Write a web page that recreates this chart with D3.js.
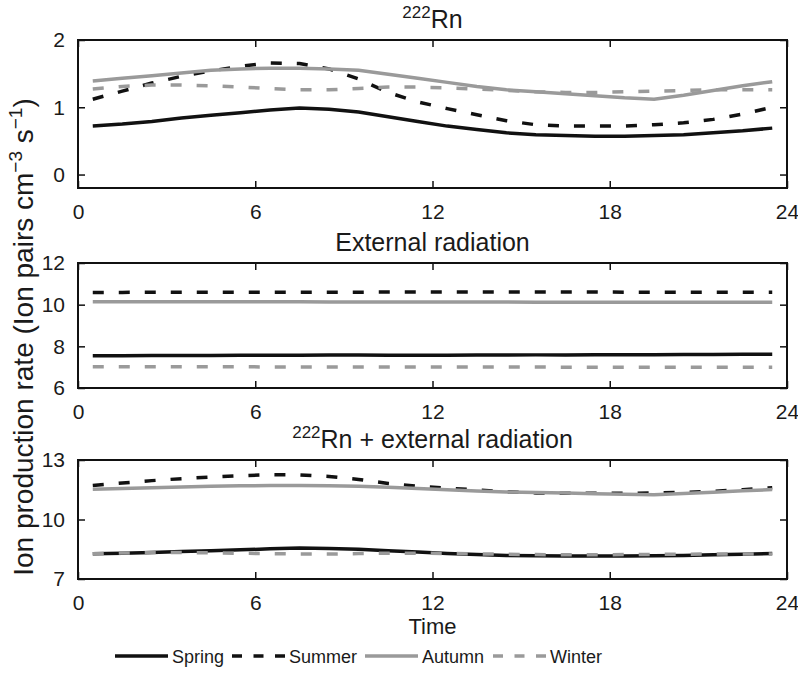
<!DOCTYPE html>
<html>
<head>
<meta charset="utf-8">
<script src="https://cdn.jsdelivr.net/npm/d3@7"></script>
<style>
  body { margin: 0; background: #fff; }
  svg text { font-family: "Liberation Sans", Arial, Helvetica, sans-serif; fill: #1a1a1a; }
</style>
</head>
<body>
<svg id="chart" width="798" height="675"></svg>
<script>
'use strict';

var hours = [0.5, 1.5, 2.5, 3.5, 4.5, 5.5, 6.5, 7.5, 8.5, 9.5, 10.5, 11.5,
	12.5, 13.5, 14.5, 15.5, 16.5, 17.5, 18.5, 19.5, 20.5, 21.5, 22.5, 23.5];
var xTicks = [0, 6, 12, 18, 24];
var seasons = ['Spring', 'Summer', 'Autumn', 'Winter'];

// 222Rn
var rnSpring = [0.72, 0.75, 0.79, 0.84, 0.88, 0.92, 0.96, 0.99, 0.97, 0.93, 0.86, 0.79,
	0.72, 0.67, 0.62, 0.59, 0.58, 0.57, 0.57, 0.58, 0.59, 0.62, 0.65, 0.69];
var rnSummer = [1.12, 1.24, 1.36, 1.46, 1.54, 1.61, 1.66, 1.65, 1.57, 1.42, 1.22, 1.08,
	0.98, 0.89, 0.80, 0.74, 0.72, 0.72, 0.72, 0.74, 0.77, 0.82, 0.90, 1.00];
var rnAutumn = [1.39, 1.43, 1.47, 1.51, 1.55, 1.57, 1.58, 1.58, 1.57, 1.55, 1.49, 1.43,
	1.37, 1.31, 1.26, 1.23, 1.20, 1.17, 1.14, 1.12, 1.18, 1.25, 1.32, 1.38];
var rnWinter = [1.27, 1.31, 1.33, 1.33, 1.32, 1.30, 1.28, 1.26, 1.26, 1.28, 1.30, 1.30,
	1.29, 1.27, 1.25, 1.23, 1.22, 1.22, 1.23, 1.24, 1.25, 1.26, 1.26, 1.26];
var rnTicks = [0, 1, 2];

// external radiation
var extSpring = [7.55, 7.55, 7.56, 7.56, 7.56, 7.57, 7.57, 7.57, 7.58, 7.58, 7.57, 7.57,
	7.57, 7.58, 7.58, 7.59, 7.59, 7.60, 7.60, 7.60, 7.61, 7.61, 7.62, 7.62];
var extSummer = [10.59, 10.59, 10.60, 10.60, 10.60, 10.60, 10.60, 10.60, 10.60, 10.60, 10.61, 10.61,
	10.61, 10.61, 10.61, 10.61, 10.61, 10.61, 10.60, 10.60, 10.60, 10.60, 10.60, 10.60];
var extAutumn = [10.14, 10.14, 10.14, 10.14, 10.14, 10.14, 10.14, 10.14, 10.13, 10.13, 10.13, 10.13,
	10.13, 10.13, 10.13, 10.12, 10.12, 10.12, 10.12, 10.12, 10.12, 10.12, 10.12, 10.12];
var extWinter = [7.02, 7.02, 7.02, 7.02, 7.02, 7.02, 7.01, 7.01, 7.01, 7.01, 7.01, 7.01,
	7.01, 7.01, 7.01, 7.01, 7.00, 7.00, 7.00, 7.00, 7.00, 7.00, 7.00, 7.00];
var extTicks = [6, 8, 10, 12];

// 222Rn + external radiation
var totSpring = [8.27, 8.30, 8.34, 8.39, 8.43, 8.47, 8.52, 8.56, 8.54, 8.50, 8.43, 8.36,
	8.29, 8.24, 8.19, 8.17, 8.16, 8.16, 8.16, 8.17, 8.19, 8.22, 8.25, 8.29];
var totSummer = [11.72, 11.84, 11.96, 12.06, 12.14, 12.21, 12.26, 12.25, 12.17, 12.02, 11.82, 11.68,
	11.58, 11.49, 11.40, 11.34, 11.32, 11.32, 11.32, 11.34, 11.37, 11.42, 11.50, 11.60];
var totAutumn = [11.52, 11.56, 11.60, 11.64, 11.68, 11.70, 11.71, 11.71, 11.70, 11.68, 11.62, 11.56,
	11.50, 11.44, 11.39, 11.36, 11.33, 11.30, 11.27, 11.25, 11.31, 11.38, 11.45, 11.51];
var totWinter = [8.27, 8.31, 8.33, 8.33, 8.32, 8.30, 8.28, 8.26, 8.26, 8.28, 8.30, 8.30,
	8.29, 8.27, 8.25, 8.23, 8.22, 8.22, 8.23, 8.24, 8.25, 8.26, 8.26, 8.26];
var totTicks = [7, 10, 13];

var BLACK = '#111111';
var GREY = '#9a9a9a';
var styles = {
	Spring: { color: BLACK, dash: null },
	Summer: { color: BLACK, dash: '11,15' },
	Autumn: { color: GREY, dash: null },
	Winter: { color: GREY, dash: '11,15' }
};

var svg = d3.select('#chart');
var left = 78, right = 787;

var x = d3.scaleLinear().domain([0, 24]).range([left, right]);

function drawPanel(p) {
	var y = d3.scaleLinear().domain(p.domain).range([p.bottom, p.top]);
	var g = svg.append('g');

	var line = d3.line()
		.x(function(d, i) { return x(hours[i]); })
		.y(function(d) { return y(d); });

	seasons.forEach(function(s, k) {
		g.append('path')
			.attr('d', line(p.series[k]))
			.attr('fill', 'none')
			.attr('stroke', styles[s].color)
			.attr('stroke-width', 3.5)
			.attr('stroke-dasharray', styles[s].dash);
	});

	var tickLen = 7;
	var fmt = d3.format('d');
	var axes = [
		d3.axisBottom(x).tickValues(xTicks).tickSize(tickLen).tickPadding(6).tickFormat(fmt),
		d3.axisTop(x).tickValues(xTicks).tickSize(tickLen).tickFormat(''),
		d3.axisLeft(y).tickValues(p.ticks).tickSize(tickLen).tickPadding(6).tickFormat(fmt),
		d3.axisRight(y).tickValues(p.ticks).tickSize(tickLen).tickFormat('')
	];
	var shifts = ['translate(0,' + p.bottom + ')', 'translate(0,' + p.top + ')',
		'translate(' + left + ',0)', 'translate(' + right + ',0)'];
	axes.forEach(function(a, i) {
		var ag = g.append('g').attr('transform', shifts[i]).call(a);
		ag.select('.domain').remove();
		// ticks point inward, matlab style
		ag.selectAll('.tick line')
			.attr('stroke', BLACK)
			.attr('stroke-width', 1.5)
			.attr('x2', function() { return i === 2 ? tickLen : (i === 3 ? -tickLen : 0); })
			.attr('y2', function() { return i === 0 ? -tickLen : (i === 1 ? tickLen : 0); });
		ag.selectAll('.tick text')
			.attr('font-size', 21)
			.attr('font-family', null)
			.attr('fill', BLACK);
		if (i === 0) ag.selectAll('.tick text').attr('dy', '0.85em');
	});

	g.append('rect')
		.attr('x', left).attr('y', p.top)
		.attr('width', right - left).attr('height', p.bottom - p.top)
		.attr('fill', 'none')
		.attr('stroke', BLACK)
		.attr('stroke-width', 2);

	var t = g.append('text')
		.attr('x', (left + right) / 2)
		.attr('y', p.titleY)
		.attr('text-anchor', 'middle')
		.attr('font-size', 25);
	if (p.sup) {
		t.append('tspan').attr('font-size', 17).attr('dy', -10).text(p.sup);
		t.append('tspan').attr('dy', 10).text(p.title);
	} else {
		t.text(p.title);
	}
}

drawPanel({ top: 40, bottom: 188, domain: [-0.2, 2], ticks: rnTicks, titleY: 28,
	sup: '222', title: 'Rn', series: [rnSpring, rnSummer, rnAutumn, rnWinter] });
drawPanel({ top: 263, bottom: 388, domain: [6, 12], ticks: extTicks, titleY: 251,
	title: 'External radiation', series: [extSpring, extSummer, extAutumn, extWinter] });
drawPanel({ top: 460, bottom: 579, domain: [7, 13], ticks: totTicks, titleY: 448,
	sup: '222', title: 'Rn + external radiation', series: [totSpring, totSummer, totAutumn, totWinter] });

// y label
var yl = svg.append('text')
	.attr('transform', 'translate(33,337) rotate(-90)')
	.attr('text-anchor', 'middle')
	.attr('font-size', 28);
yl.append('tspan').text('Ion production rate (Ion pairs cm');
yl.append('tspan').attr('font-size', 19).attr('dy', -11).text('\u22123');
yl.append('tspan').attr('dy', 11).text(' s');
yl.append('tspan').attr('font-size', 19).attr('dy', -11).text('\u22121');
yl.append('tspan').attr('dy', 11).text(')');

svg.append('text')
	.attr('x', (left + right) / 2)
	.attr('y', 634)
	.attr('text-anchor', 'middle')
	.attr('font-size', 22)
	.text('Time');

// legend
var legX = [115, 232, 365, 493];
var legend = svg.append('g');
seasons.forEach(function(s, i) {
	legend.append('line')
		.attr('x1', legX[i]).attr('x2', legX[i] + 53)
		.attr('y1', 656).attr('y2', 656)
		.attr('stroke', styles[s].color)
		.attr('stroke-width', 3.5)
		.attr('stroke-dasharray', styles[s].dash ? '10,11.5' : null);
	legend.append('text')
		.attr('x', legX[i] + 57)
		.attr('y', 663)
		.attr('font-size', 18)
		.text(s);
});
</script>
</body>
</html>
